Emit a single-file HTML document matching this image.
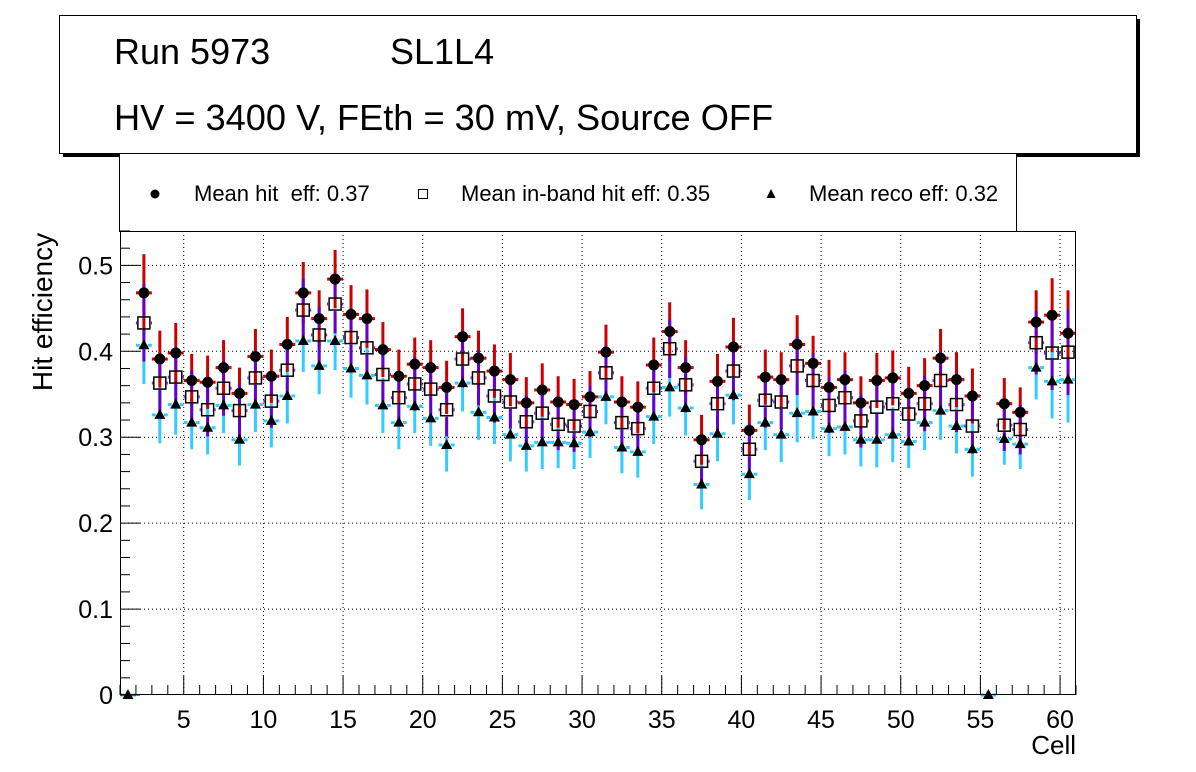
<!DOCTYPE html>
<html><head><meta charset="utf-8"><style>
html,body{margin:0;padding:0;background:#fff;}
svg{display:block;font-family:"Liberation Sans",Arial,sans-serif;}
</style></head><body>
<svg id="chart" width="1196" height="772" viewBox="0 0 1196 772" xmlns="http://www.w3.org/2000/svg">
  <g>
    <rect x="63" y="19" width="1077" height="138" fill="#000"/>
    <rect x="59.5" y="15.5" width="1077" height="138" fill="#fff" stroke="#000" stroke-width="1"/>
    <text x="114" y="64" font-size="36">Run 5973</text>
    <text x="390" y="64" font-size="36">SL1L4</text>
    <text x="114" y="130" font-size="36.2">HV = 3400 V, FEth = 30 mV, Source OFF</text>
  </g>
  <g>
    <rect x="119.5" y="153.5" width="897" height="78" fill="#fff" stroke="#000" stroke-width="1"/>
    <g>
      <circle cx="155" cy="194" r="4.5" fill="#000"/>
      <text x="194" y="201" font-size="22" style="white-space:pre">Mean hit  eff: 0.37</text>
    </g>
    <g>
      <rect x="418.5" y="189.5" width="9" height="9" fill="#fff" stroke="#000" stroke-width="1"/>
      <text x="461" y="201" font-size="22">Mean in-band hit eff: 0.35</text>
    </g>
    <g>
      <polygon points="771,189 775.5,198 766.5,198" fill="#000"/>
      <text x="809" y="201" font-size="22">Mean reco eff: 0.32</text>
    </g>
  </g>
  <g id="plot"></g>
  <text x="0" y="0" font-size="28" text-anchor="middle" transform="translate(52,312) rotate(-90)">Hit efficiency</text>
  <text x="1076" y="754" font-size="26" text-anchor="end">Cell</text>
</svg>
<script>
const cells = [];
for (let i = 1; i <= 60; i++) cells.push(i);
const hitEff = [0,0.468,0.391,0.398,0.366,0.364,0.381,0.351,0.394,0.371,0.408,0.468,0.438,0.484,0.443,0.438,0.402,0.371,0.385,0.381,
0.358,0.417,0.392,0.377,0.367,0.340,0.355,0.341,0.338,0.347,0.399,0.341,0.335,0.384,0.423,0.381,0.297,0.365,0.405,0.308,
0.370,0.367,0.408,0.386,0.358,0.367,0.340,0.366,0.369,0.351,0.360,0.392,0.367,0.348,0,0.339,0.329,0.434,0.442,0.421];
const inbandEff = [0,0.433,0.363,0.370,0.347,0.332,0.357,0.331,0.369,0.342,0.378,0.448,0.419,0.455,0.416,0.404,0.373,0.346,0.362,0.356,
0.332,0.391,0.369,0.348,0.341,0.318,0.328,0.315,0.313,0.330,0.375,0.317,0.310,0.357,0.403,0.361,0.272,0.339,0.377,0.286,
0.343,0.341,0.383,0.366,0.337,0.346,0.319,0.335,0.339,0.327,0.339,0.366,0.338,0.313,0,0.314,0.309,0.410,0.398,0.399];
const recoEff = [0,0.407,0.326,0.338,0.317,0.311,0.337,0.297,0.338,0.319,0.348,0.412,0.383,0.412,0.380,0.372,0.337,0.317,0.336,0.322,
0.291,0.363,0.329,0.323,0.303,0.290,0.294,0.294,0.293,0.306,0.347,0.288,0.283,0.324,0.358,0.334,0.245,0.304,0.349,0.257,
0.317,0.303,0.328,0.330,0.310,0.312,0.297,0.297,0.303,0.295,0.317,0.331,0.313,0.286,0,0.298,0.292,0.381,0.365,0.367];
const hitErr = [0,0.045,0.033,0.035,0.031,0.031,0.032,0.030,0.032,0.031,0.032,0.036,0.033,0.034,0.034,0.034,0.032,0.031,0.031,0.032,
0.031,0.033,0.032,0.031,0.031,0.030,0.031,0.030,0.030,0.030,0.032,0.030,0.030,0.032,0.034,0.032,0.029,0.032,0.034,0.030,
0.032,0.032,0.034,0.032,0.032,0.032,0.031,0.032,0.032,0.031,0.032,0.034,0.032,0.032,0,0.030,0.029,0.037,0.043,0.050];
const inbandErr = hitErr.map(v => v);
const recoErr = hitErr.map(v => v);
const yTicks = [0,0.1,0.2,0.3,0.4,0.5];
const yTickLabels = ["0","0.1","0.2","0.3","0.4","0.5"];
const xTicks = [5,10,15,20,25,30,35,40,45,50,55,60];

const L = 120, R = 1076, T = 231, B = 695;
const xMin = 1, xMax = 61, yMin = 0, yMax = 0.54;
const sx = v => L + (v - xMin) / (xMax - xMin) * (R - L);
const sy = v => B - (v - yMin) / (yMax - yMin) * (B - T);
const NS = "http://www.w3.org/2000/svg";
const plot = document.getElementById('plot');
function mk(tag, attrs, parent) {
  const e = document.createElementNS(NS, tag);
  for (const k in attrs) e.setAttribute(k, attrs[k]);
  (parent || plot).appendChild(e);
  return e;
}
const frame = mk('rect', {x: L, y: T, width: R - L, height: B - T, fill: '#fff', stroke: 'none'});


const grid = mk('g', {stroke: '#000', 'stroke-width': 1, 'stroke-dasharray': '1,3'});


xTicks.forEach(t => mk('line', {x1: sx(t), x2: sx(t), y1: T, y2: B}, grid));
yTicks.forEach(t => { if (t > 0) mk('line', {x1: L, x2: R, y1: sy(t), y2: sy(t)}, grid); });

function series(vals, errs, color, name, gap, skipZero) {
  const g = mk('g', {});
  
  
  vals.forEach((v, i) => {
    if (skipZero && v <= 0) return;
    const x = sx(cells[i] + 0.5), y = sy(v);
    mk('line', {x1: sx(cells[i]), x2: x - gap, y1: y, y2: y, stroke: color, 'stroke-width': 3}, g);
    mk('line', {x1: x + gap, x2: sx(cells[i] + 1), y1: y, y2: y, stroke: color, 'stroke-width': 3}, g);
    if (errs[i] > 0) {
      mk('line', {x1: x, x2: x, y1: sy(v + errs[i]), y2: y - gap, stroke: color, 'stroke-width': 3}, g);
      mk('line', {x1: x, x2: x, y1: y + gap, y2: sy(v - errs[i]), stroke: color, 'stroke-width': 3}, g);
    }
  });
  return g;
}
function markers(vals, kind, name) {
  const g = mk('g', {});
  
  
  vals.forEach((v, i) => {
    const x = sx(cells[i] + 0.5), y = sy(v);
    if (kind === 'tri') {
      const p = mk('polygon', {points: `${x},${y-6} ${x+5.5},${y+4} ${x-5.5},${y+4}`, fill: '#000'}, g);
      
      
    } else if (kind === 'sq') {
      if (v <= 0) return;
      const p = mk('rect', {x: x - 6, y: y - 6, width: 12, height: 12, fill: 'none', stroke: '#000', 'stroke-width': 1.5}, g);
      
      
    } else {
      if (v <= 0) return;
      const p = mk('circle', {cx: x, cy: y, r: 5.5, fill: '#000'}, g);
      
      
    }
  });
}
series(recoEff, recoErr, '#33ccff', 'reco', 4, false);
series(hitEff, hitErr, '#cc0000', 'hit', 0, true);
series(inbandEff, inbandErr, '#6600cc', 'inband', 7, true);
markers(inbandEff, 'sq', 'inband');
markers(hitEff, 'circ', 'hit');
markers(recoEff, 'tri', 'reco');

const ax = mk('g', {stroke: '#000', 'stroke-width': 1});


mk('rect', {x: L + 0.5, y: T + 0.5, width: R - L - 1, height: B - T - 1, fill: 'none'}, ax);
for (let c = 1; c <= 61; c++) {
  const len = (c % 5 === 0) ? 19 : 10;
  mk('line', {x1: sx(c), x2: sx(c), y1: B, y2: B - len}, ax);
}
for (let k = 0; k <= 27; k++) {
  const v = k * 0.02;
  const len = (k % 5 === 0) ? 20 : 10;
  mk('line', {x1: L, x2: L + len, y1: sy(v), y2: sy(v)}, ax);
}
const xl = mk('g', {'font-size': 25, 'text-anchor': 'middle', fill: '#000'});


xTicks.forEach(t => { const e = mk('text', {x: sx(t), y: 728}, xl); e.textContent = String(t); });
const yl = mk('g', {'font-size': 25, 'text-anchor': 'end', fill: '#000'});


yTicks.forEach((t, i) => { const e = mk('text', {x: 113, y: sy(t) + 9}, yl); e.textContent = yTickLabels[i]; });
</script>
</body></html>
